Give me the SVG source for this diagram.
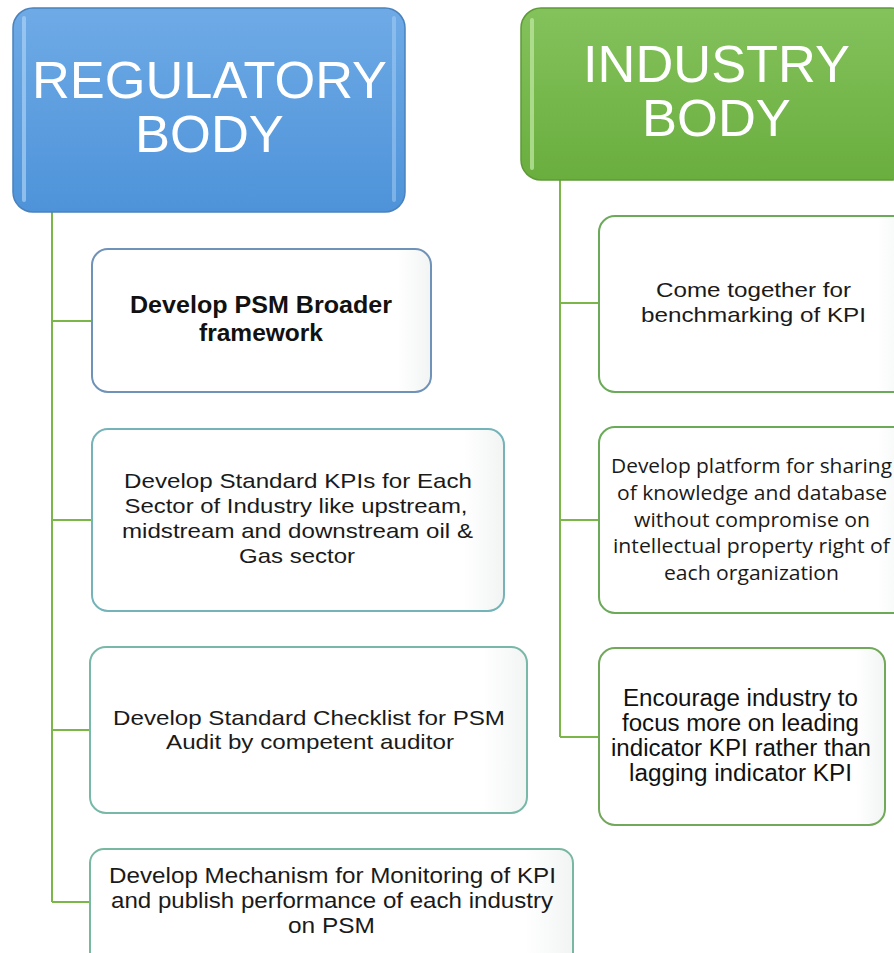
<svg xmlns="http://www.w3.org/2000/svg" width="894" height="953" viewBox="0 0 894 953">
<defs>
<linearGradient id="gBlue" x1="0" y1="0" x2="0" y2="1">
<stop offset="0" stop-color="#6eaae6"/>
<stop offset="1" stop-color="#4e93d9"/>
</linearGradient>
<linearGradient id="gGreen" x1="0" y1="0" x2="0" y2="1">
<stop offset="0" stop-color="#84c25c"/>
<stop offset="1" stop-color="#6aae3e"/>
</linearGradient>
<linearGradient id="gWhite" x1="0" y1="0" x2="1" y2="0">
<stop offset="0" stop-color="#ffffff"/>
<stop offset="0.9" stop-color="#ffffff"/>
<stop offset="1" stop-color="#f2f4f4"/>
</linearGradient>
</defs>
<style>
.hdr{font-family:"Liberation Sans",Arial,sans-serif;font-size:52.5px;fill:#ffffff;text-anchor:middle}
.t{font-family:"Liberation Sans",Arial,sans-serif;font-size:21px;fill:#1a1a1a;text-anchor:middle}
.tb{font-family:"Liberation Sans",Arial,sans-serif;font-size:23px;font-weight:bold;fill:#111;text-anchor:middle}
.tc{font-family:"Open Sans","Noto Sans",sans-serif;font-size:20px;fill:#1a1a1a;text-anchor:middle}
.tl{font-family:"Liberation Sans",Arial,sans-serif;font-size:23px;fill:#111;text-anchor:middle}
.conn{fill:none;stroke:#7ab648;stroke-width:2}
.bx{fill:url(#gWhite);stroke-width:2}
</style>
<rect width="894" height="953" fill="#ffffff"/>
<g id="connectors">
<path class="conn" d="M52 212 V902 M52 321 H92 M52 520 H92 M52 730 H90 M52 902 H90"/>
<path class="conn" d="M560 180 V737 M560 303 H599 M560 520 H599 M560 737 H599"/>
</g>
<g id="regulatory">
<rect x="13" y="8" width="392" height="204" rx="20" fill="url(#gBlue)" stroke="#4a82bd" stroke-width="1.5"/>
<rect x="22" y="16" width="4" height="186" rx="2" fill="#a9d0f5" opacity="0.7"/>
<rect x="392" y="16" width="4" height="186" rx="2" fill="#a9d0f5" opacity="0.5"/>
<text class="hdr" x="209.5" y="98" textLength="355" lengthAdjust="spacingAndGlyphs">REGULATORY</text>
<text class="hdr" x="209.5" y="152">BODY</text>
</g>
<g id="industry">
<rect x="521" y="8" width="390" height="172" rx="20" fill="url(#gGreen)" stroke="#5e9a38" stroke-width="1.5"/>
<rect x="530" y="18" width="4" height="152" rx="2" fill="#b8e39a" opacity="0.8"/>
<text class="hdr" x="716.5" y="82" textLength="267" lengthAdjust="spacingAndGlyphs">INDUSTRY</text>
<text class="hdr" x="716.5" y="136">BODY</text>
</g>
<g id="r1">
<rect class="bx" x="92" y="249" width="339" height="143" rx="16" stroke="#6f92b8"/>
<text class="tb" x="261" y="313" textLength="262" lengthAdjust="spacingAndGlyphs">Develop PSM Broader</text>
<text class="tb" x="261" y="341" textLength="124" lengthAdjust="spacingAndGlyphs">framework</text>
</g>
<g id="r2">
<rect class="bx" x="92" y="429" width="412" height="182" rx="16" stroke="#74b3b8"/>
<text class="t" x="298" y="488" textLength="348" lengthAdjust="spacingAndGlyphs">Develop Standard KPIs for Each</text>
<text class="t" x="296" y="513" textLength="343" lengthAdjust="spacingAndGlyphs">Sector of Industry like upstream,</text>
<text class="t" x="297.5" y="538" textLength="351" lengthAdjust="spacingAndGlyphs">midstream and downstream oil &amp;</text>
<text class="t" x="297" y="563" textLength="116" lengthAdjust="spacingAndGlyphs">Gas sector</text>
</g>
<g id="r3">
<rect class="bx" x="90" y="647" width="437" height="166" rx="16" stroke="#78b8a8"/>
<text class="t" x="309" y="725" textLength="392" lengthAdjust="spacingAndGlyphs">Develop Standard Checklist for PSM</text>
<text class="t" x="310" y="749" textLength="288" lengthAdjust="spacingAndGlyphs">Audit by competent auditor</text>
</g>
<g id="r4">
<rect class="bx" x="90" y="849" width="483" height="120" rx="14" stroke="#78b8a0"/>
<text class="t" x="332.5" y="883" style="font-size:22px" textLength="447" lengthAdjust="spacingAndGlyphs">Develop Mechanism for Monitoring of KPI</text>
<text class="t" x="332" y="908" style="font-size:22px" textLength="442" lengthAdjust="spacingAndGlyphs">and publish performance of each industry</text>
<text class="t" x="331.5" y="933" style="font-size:22px" textLength="87" lengthAdjust="spacingAndGlyphs">on PSM</text>
</g>
<g id="i1">
<rect class="bx" x="599" y="216" width="310" height="176" rx="16" stroke="#6aaa58"/>
<text class="t" x="753.5" y="297" textLength="195" lengthAdjust="spacingAndGlyphs">Come together for</text>
<text class="t" x="753.5" y="322" textLength="225" lengthAdjust="spacingAndGlyphs">benchmarking of KPI</text>
</g>
<g id="i2">
<rect class="bx" x="599" y="427" width="310" height="186" rx="16" stroke="#6aaa58"/>
<text class="tc" x="751.5" y="473" textLength="281" lengthAdjust="spacingAndGlyphs">Develop platform for sharing</text>
<text class="tc" x="752" y="500" textLength="270" lengthAdjust="spacingAndGlyphs">of knowledge and database</text>
<text class="tc" x="752" y="527" textLength="236" lengthAdjust="spacingAndGlyphs">without compromise on</text>
<text class="tc" x="751.5" y="553" textLength="277" lengthAdjust="spacingAndGlyphs">intellectual property right of</text>
<text class="tc" x="751.5" y="580" textLength="175" lengthAdjust="spacingAndGlyphs">each organization</text>
</g>
<g id="i3">
<rect class="bx" x="599" y="648" width="286" height="177" rx="16" stroke="#72a85a"/>
<text class="tl" x="740.5" y="706" textLength="235" lengthAdjust="spacingAndGlyphs">Encourage industry to</text>
<text class="tl" x="740.5" y="731" textLength="237" lengthAdjust="spacingAndGlyphs">focus more on leading</text>
<text class="tl" x="741" y="756" textLength="260" lengthAdjust="spacingAndGlyphs">indicator KPI rather than</text>
<text class="tl" x="740.5" y="781" textLength="223" lengthAdjust="spacingAndGlyphs">lagging indicator KPI</text>
</g>
</svg>
